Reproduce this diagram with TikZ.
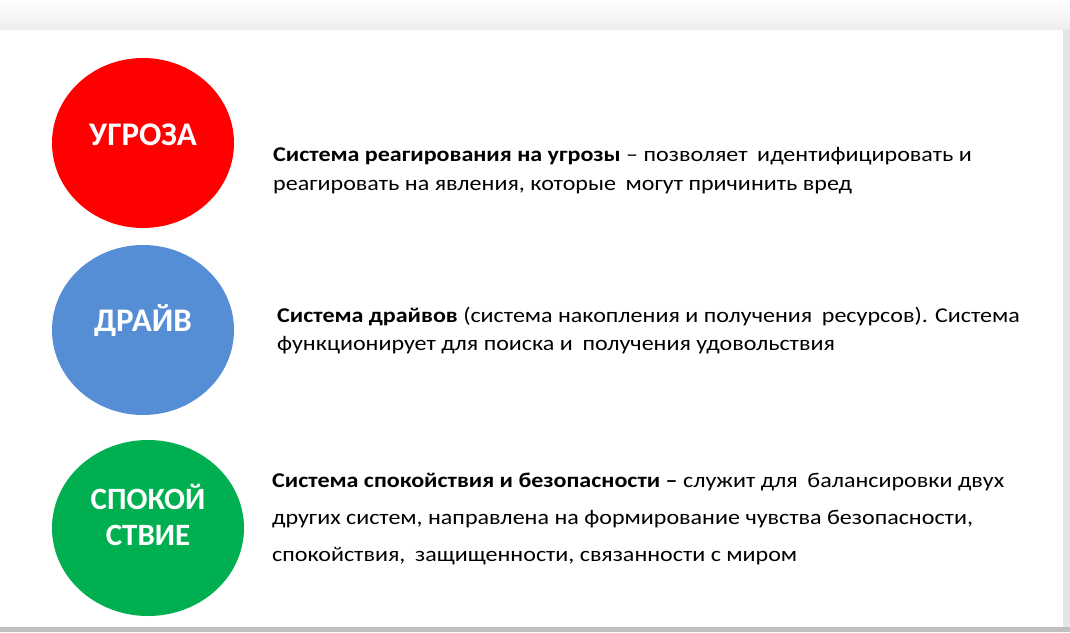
\documentclass[tikz,border=0pt]{standalone}
\usepackage{fontspec}
\setmainfont{Carlito}
\newfontfamily\bodyfont[FakeStretch=1.145]{Carlito}
\usetikzlibrary{shapes.geometric}
\definecolor{cred}{HTML}{FF0000}
\definecolor{cblue}{HTML}{558ED5}
\definecolor{cgreen}{HTML}{00B050}
\definecolor{shadow}{HTML}{E4E4E4}
\definecolor{bottomline}{HTML}{C0C0C0}
\definecolor{topband}{HTML}{F9F9F9}
\tikzset{
  circ/.style={ellipse, inner sep=0pt, draw=none},
  lbl/.style={text=white, font=\fontsize{33}{36}\selectfont\bfseries, inner sep=0pt, align=center},
  body/.style={anchor=base west, inner sep=0pt, font=\bodyfont\fontsize{21}{25}\selectfont, text=black},
}
\begin{document}
\begin{tikzpicture}[x=1pt,y=-1pt]
\useasboundingbox (0,0) rectangle (1070,632);
% background
\fill[topband] (0,0) rectangle (1070,632);
\shade[top color=white, bottom color=topband!90!gray] (0,0) rectangle (1070,30);
\fill[shadow] (1063,30) rectangle (1070,632);
\fill[bottomline] (0,627) rectangle (1070,632);
\fill[white] (0,30) rectangle (1063,627);
% circles
\node[circ, fill=cred, minimum width=182pt, minimum height=170pt] (threat) at (143,143) {};
\node[circ, fill=cblue, minimum width=182pt, minimum height=170pt] (drive) at (143,330) {};
\node[circ, fill=cgreen, minimum width=192pt, minimum height=176pt] (calm) at (148,528) {};
% labels
\node[lbl] (threatlbl) at (143,134.5) {УГРОЗА};
\node[lbl] (drivelbl) at (143,320.5) {ДРАЙВ};
\node[lbl, font=\fontsize{31}{36}\selectfont\bfseries] (calmlbl) at (148,515) {СПОКОЙ\\СТВИЕ};
% texts
\node[body] (t1a) at (273,161) {\textbf{Система реагирования на угрозы} – позволяет\hspace{0.2em} идентифицировать и};
\node[body] (t1b) at (273,190) {реагировать на явления, которые\hspace{0.2em} могут причинить вред};
\node[body] (t2a) at (277,322) {\textbf{Система драйвов} (система накопления и получения\hspace{0.2em} ресурсов). Система};
\node[body] (t2b) at (277,350) {функционирует для поиска и\hspace{0.2em} получения удовольствия};
\node[body] (t3a) at (272,487) {\textbf{Система спокойствия и безопасности –} служит для\hspace{0.2em} балансировки двух};
\node[body] (t3b) at (272,524) {других систем, направлена на формирование чувства безопасности,};
\node[body] (t3c) at (272,561) {спокойствия,\hspace{0.2em} защищенности, связанности с миром};
\end{tikzpicture}
\end{document}
